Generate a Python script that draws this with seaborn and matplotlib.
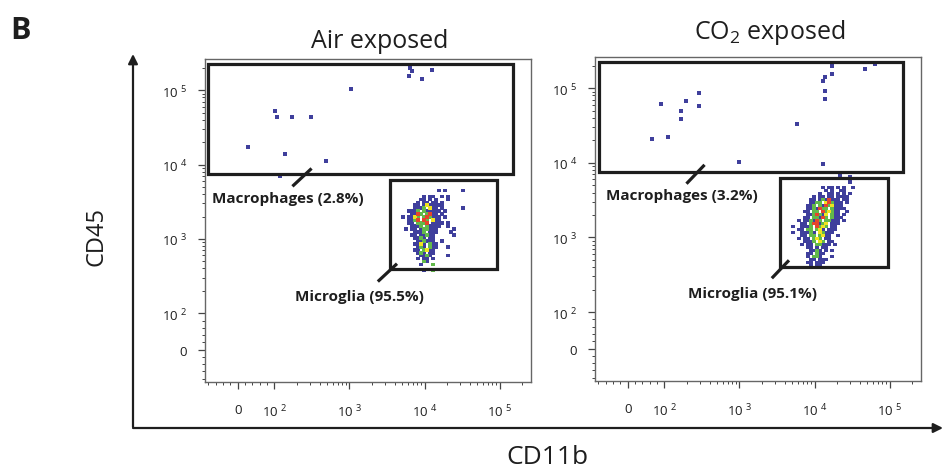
import numpy as np
import pandas as pd
import matplotlib
matplotlib.use("Agg")
import matplotlib.pyplot as plt
import seaborn as sns
from matplotlib.patches import Rectangle, FancyArrowPatch
from matplotlib.ticker import FixedLocator, FixedFormatter

# ---------------- data ----------------
panel_titles = ["Air exposed", r"CO$_{2}$ exposed"]
gate_labels = [["Macrophages (2.8%)", "Microglia (95.5%)"],
               ["Macrophages (3.2%)", "Microglia (95.1%)"]]

# sparse events (CD11b, CD45)
air_sparse_x = [6410, 6820, 6220, 9290, 12600, 1040, 103, 110, 174, 304, 27, 140, 482, 120]
air_sparse_y = [196000, 179000, 154000, 140000, 185000, 103000, 52500, 43700, 43700, 43700,
                17400, 14000, 11000, 6900]
co2_sparse_x = [17200, 47500, 64700, 17200, 13900, 13000, 13900, 13900, 197, 285, 285, 92,
                169, 169, 65, 113, 977, 5840, 13000, 22000, 30000, 30000]
co2_sparse_y = [196000, 179000, 209000, 154000, 140000, 124000, 91200, 71300, 67100, 85700,
                57500, 61200, 49300, 38600, 20900, 22200, 10300, 33100, 9700, 6920, 6500, 5580]

# binned density of the microglia clusters (b=low, g, y, r=high), rows top->bottom
air_cluster_rows = [
    "..............b.b.....b",
    "........................",
    ".........b.bb..b.b......",
    "........bb.b.b...b......",
    ".......b.bb.bb.b........",
    "......bb.bybbbbb........",
    "......bbbg.ybb.b......b.",
    "....bbbg.gbbbbb.b.......",
    ".....bbrg.grbb.b........",
    "..b.bbyg.grgbbb.b.......",
    "....bbgr.rg.ybb.........",
    "....bb.gggr.bbbb.b......",
    ".....bbbg.gbbbb..b......",
    "...b.bb.bggbbb.....b....",
    "......bbbg.bbb....b.....",
    ".....bb.bbgbb......b....",
    "......bbgb.bb...........",
    ".......bbgbbb..b........",
    "......bbyb.gbb..........",
    ".......bgb.gbb...b......",
    "......bb.gybb...........",
    ".......bgb.bb...........",
    "........bbgb.....b......",
    ".......b.bb.b...........",
    ".........gb.............",
    "........b...g...........",
    "........................",
    ".........b..g...........",
]
air_cluster_origin = (3.633, 3.653)   # log10 CD11b, log10 CD45 of first cell

co2_cluster_rows = [
    "...........b.bb.b.b..b",
    "............b.b..bb...",
    "..........b..bb.b.b.b.",
    "........b.bb.bb.bbbb..",
    ".......bb.bgbrbbb.bb...",
    ".......bbgg.yrgbbb.b...",
    "......bbg.gbrgybbb.....",
    "......bbgbrgg.gbbbb....",
    ".....bb.gg.rgygbb..b...",
    "......bbgrgby.gbb.b....",
    ".....bb.ggbrg.gbbb.....",
    "...b.bbgbrg.ggbbb.b....",
    "....bb.grrbgy.bbb......",
    ".b..bbbg.rgyg.bb.......",
    "...bb.gg.gyb.bbb.......",
    ".b..bbbgb.ygbbb........",
    "....bb.gg.gybb..b......",
    "...b.bb.gyg.bb.........",
    ".....bbbg.yg.bb........",
    "....b.bb.ggbbb.b.......",
    "......bb.b.bb..........",
    ".......bbgb.b.b........",
    "......bb.gbb...........",
    "......b.ggb...b........",
    ".......bb.bbb..........",
    "......bb.bbb...........",
    ".......b.bb............",
]
co2_cluster_origin = (3.673, 3.667)
cluster_step = 0.04

# gates: (x0, x1, y0, y1)
macro_gates = [(-81, 149000, 7360, 222000), (-78, 153000, 7590, 222000)]
micro_gates = [(3470, 93800, 398, 6120), (3470, 96600, 398, 6310)]

# label positions / leader lines in data units
macro_text = [(149, 3520), (169, 3740)]
macro_leader = [((174, 5090), (313, 8850)), ((197, 5250), (343, 9400))]
micro_text = [(1375, 169), (1510, 179)]
micro_leader = [((2390, 267), (4300, 464)), ((2700, 284), (4570, 494))]

major_ticks = [0, 1e2, 1e3, 1e4, 1e5]
major_labels = ["0", r"$\mathregular{10^{\ 2}}$", r"$\mathregular{10^{\ 3}}$",
                r"$\mathregular{10^{\ 4}}$", r"$\mathregular{10^{\ 5}}$"]
minor_ticks = ([-80, -60, -40, -20, 20, 40, 60, 80]
               + [m * 10 ** e for e in (2, 3, 4) for m in range(2, 10)] + [2e5])
axis_lim = (-89, 262144)

level_colors = {"b": "#3f3f9c", "g": "#62b94a", "y": "#efe31f", "r": "#e6442b"}
level_order = ["b", "g", "y", "r"]

# ---------------- style ----------------
sns.set_style("ticks")
plt.rcParams["font.family"] = ["Open Sans", "DejaVu Sans"]
plt.rcParams["mathtext.fontset"] = "custom"
plt.rcParams["mathtext.rm"] = "Open Sans"
plt.rcParams["mathtext.it"] = "Open Sans"
plt.rcParams["mathtext.bf"] = "Open Sans:bold"

W, H = 944, 477
fig = plt.figure(figsize=(W / 100, H / 100), dpi=100)


def fx(x, y):
    return (x / W, 1 - y / H)


def cells(rows, origin, step):
    xs, ys, lv = [], [], []
    for r, row in enumerate(rows):
        for c, ch in enumerate(row):
            if ch != ".":
                xs.append(10 ** (origin[0] + c * step))
                ys.append(10 ** (origin[1] - r * step))
                lv.append(ch)
    df = pd.DataFrame({"CD11b": xs, "CD45": ys, "level": lv})
    df["rank"] = df["level"].map({k: i for i, k in enumerate(level_order)})
    return df.sort_values("rank", kind="stable")


axes_px = [(205, 383, 326, 323), (595, 382, 326, 324)]
sparse = [(air_sparse_x, air_sparse_y), (co2_sparse_x, co2_sparse_y)]
clusters = [(air_cluster_rows, air_cluster_origin), (co2_cluster_rows, co2_cluster_origin)]

for i in range(2):
    x0, yb, w, h = axes_px[i]
    ax = fig.add_axes([x0 / W, 1 - yb / H, w / W, h / H])
    ax.set_xscale("symlog", linthresh=100, linscale=0.44)
    ax.set_yscale("symlog", linthresh=100, linscale=0.44)

    sp = pd.DataFrame({"CD11b": sparse[i][0], "CD45": sparse[i][1]})
    sns.scatterplot(data=sp, x="CD11b", y="CD45", marker="s", s=6.5, linewidth=0,
                    color=level_colors["b"], ax=ax, legend=False)
    cdf = cells(clusters[i][0], clusters[i][1], cluster_step)
    sns.scatterplot(data=cdf, x="CD11b", y="CD45", hue="level", palette=level_colors,
                    hue_order=level_order, marker="s", s=6.0, linewidth=0, ax=ax,
                    legend=False)

    ax.set_xlim(*axis_lim)
    ax.set_ylim(*axis_lim)

    for g in (macro_gates[i], micro_gates[i]):
        ax.add_patch(Rectangle((g[0], g[2]), g[1] - g[0], g[3] - g[2], fill=False,
                               edgecolor="#1e1e1e", linewidth=2.3, zorder=5))
    for (a, b) in (macro_leader[i], micro_leader[i]):
        ax.plot([a[0], b[0]], [a[1], b[1]], color="#1e1e1e", linewidth=2.3,
                solid_capstyle="butt", zorder=5)
    ax.text(*macro_text[i], gate_labels[i][0], ha="center", va="center",
            fontsize=11, fontweight="bold", color="#1e1e1e")
    ax.text(*micro_text[i], gate_labels[i][1], ha="center", va="center",
            fontsize=11, fontweight="bold", color="#1e1e1e")

    for axis in (ax.xaxis, ax.yaxis):
        axis.set_major_locator(FixedLocator(major_ticks))
        axis.set_major_formatter(FixedFormatter(major_labels))
        axis.set_minor_locator(FixedLocator(minor_ticks))
    ax.tick_params(which="major", length=5, width=0.9, color="#444444",
                   labelsize=9.5, labelcolor="#1e1e1e", direction="out")
    ax.tick_params(which="minor", length=2.5, width=0.7, color="#444444", direction="out")
    ax.tick_params(axis="x", which="major", pad=10)
    ax.tick_params(axis="y", which="major", pad=8)
    ax.set_xlabel("")
    ax.set_ylabel("")
    for s in ax.spines.values():
        s.set_visible(True)
        s.set_color("#666666")
        s.set_linewidth(1.0)

# titles and figure labels
fig.text(*fx(380, 48), panel_titles[0], ha="center", va="baseline", fontsize=18,
         color="#1e1e1e")
fig.text(*fx(770, 39), panel_titles[1], ha="center", va="baseline", fontsize=18,
         color="#1e1e1e")
fig.text(*fx(10, 39), "B", ha="left", va="baseline", fontsize=22, fontweight="bold",
         color="#1e1e1e")
fig.text(*fx(96, 237), "CD45", ha="center", va="center", rotation=90, fontsize=17,
         color="#1e1e1e")
fig.text(*fx(547, 458), "CD11b", ha="center", va="center", fontsize=19, color="#1e1e1e")

# big axis arrows
for a, b in (((133, 428), (133, 55)), ((133, 429), (943, 429))):
    fig.add_artist(FancyArrowPatch(fx(*a), fx(*b), transform=fig.transFigure,
                                   arrowstyle="-|>", mutation_scale=14, linewidth=1.6,
                                   color="#1e1e1e", shrinkA=0, shrinkB=0))

fig.savefig("out.png", dpi=100)
